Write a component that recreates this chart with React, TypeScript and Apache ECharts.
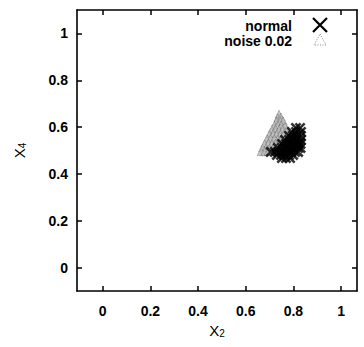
import React, { useEffect, useRef } from "react";
import * as echarts from "echarts";

const tickValues = [0, 0.2, 0.4, 0.6, 0.8, 1];
const xRange = [-0.108, 1.067];
const yRange = [-0.1, 1.1];

const normalPoints: number[][] = [
  [0.811, 0.596], [0.828, 0.596],
  [0.794, 0.579], [0.811, 0.579], [0.832, 0.579],
  [0.782, 0.562], [0.798, 0.562], [0.815, 0.562], [0.832, 0.562],
  [0.765, 0.545], [0.782, 0.545], [0.798, 0.545], [0.815, 0.545], [0.832, 0.545],
  [0.752, 0.528], [0.769, 0.528], [0.786, 0.528], [0.803, 0.528], [0.82, 0.528], [0.83, 0.528],
  [0.735, 0.511], [0.752, 0.511], [0.769, 0.511], [0.786, 0.511], [0.803, 0.511], [0.82, 0.511], [0.83, 0.511],
  [0.705, 0.494], [0.722, 0.494], [0.739, 0.494], [0.756, 0.494], [0.773, 0.494], [0.79, 0.494], [0.807, 0.494], [0.82, 0.494],
  [0.731, 0.481], [0.748, 0.481], [0.765, 0.481], [0.782, 0.481], [0.799, 0.481],
  [0.752, 0.468], [0.769, 0.468], [0.786, 0.468],
];

const noisePoints: number[][] = [
  [0.74, 0.655], [0.735, 0.64], [0.748, 0.642], [0.73, 0.625], [0.745, 0.627], [0.758, 0.625],
  [0.72, 0.607], [0.735, 0.609], [0.75, 0.607], [0.765, 0.605],
  [0.71, 0.59], [0.725, 0.592], [0.74, 0.59], [0.755, 0.59], [0.772, 0.588],
  [0.70, 0.57], [0.715, 0.572], [0.73, 0.57], [0.745, 0.57], [0.76, 0.57], [0.778, 0.572], [0.79, 0.565],
  [0.69, 0.55], [0.705, 0.552], [0.72, 0.55], [0.735, 0.55], [0.75, 0.55], [0.765, 0.55], [0.78, 0.55],
  [0.68, 0.53], [0.695, 0.532], [0.71, 0.53], [0.725, 0.53], [0.74, 0.53], [0.755, 0.53],
  [0.67, 0.51], [0.685, 0.512], [0.70, 0.51], [0.715, 0.51], [0.73, 0.51],
  [0.665, 0.495], [0.68, 0.495], [0.695, 0.497],
];

const legendNames = ["normal", "noise 0.02"];

const crossPath =
  "path://M0,2L2,0L6,4L10,0L12,2L8,6L12,10L10,12L6,8L2,12L0,10L4,6Z";

const font = "'Liberation Sans', Arial, Helvetica, sans-serif";

export default function App() {
  const ref = useRef<HTMLDivElement>(null);
  useEffect(() => {
    if (!ref.current) return;
    const chart = echarts.init(ref.current, undefined, { renderer: "svg" });
    const tickCommon = {
      show: true,
      inside: true,
      length: 5,
      lineStyle: { color: "#000", width: 1.5 },
      customValues: tickValues,
    };
    const axisLineCommon = { show: true, onZero: false, lineStyle: { color: "#000", width: 1.6 } };
    const labelCommon = {
      customValues: tickValues,
      color: "#000",
      fontSize: 14,
      fontWeight: "bold",
      fontFamily: font,
      formatter: (v: number) => String(v),
    };
    const nameRich = {
      a: { fontSize: 15, fontFamily: font, color: "#000" },
      b: { fontSize: 10, fontFamily: font, color: "#000", verticalAlign: "bottom", padding: [6, 0, 0, 0] },
    };
    chart.setOption({
      animation: false,
      backgroundColor: "#fff",
      textStyle: { fontFamily: font },
      grid: { left: 77, right: 7, top: 10, bottom: 56, show: false },
      xAxis: [
        {
          type: "value",
          min: xRange[0],
          max: xRange[1],
          position: "bottom",
          axisLine: axisLineCommon,
          axisTick: tickCommon,
          splitLine: { show: false },
          axisLabel: { ...labelCommon, margin: 13 },
          name: "{a|X}{b|2}",
          nameLocation: "middle",
          nameGap: 31,
          nameTextStyle: { rich: nameRich },
        },
        {
          type: "value",
          min: xRange[0],
          max: xRange[1],
          position: "top",
          axisLine: axisLineCommon,
          axisTick: tickCommon,
          axisLabel: { show: false },
          splitLine: { show: false },
        },
      ],
      yAxis: [
        {
          type: "value",
          min: yRange[0],
          max: yRange[1],
          position: "left",
          axisLine: axisLineCommon,
          axisTick: tickCommon,
          splitLine: { show: false },
          axisLabel: { ...labelCommon, margin: 9 },
          name: "{a|X}{b|4}",
          nameLocation: "middle",
          nameGap: 50,
          nameTextStyle: { rich: nameRich },
        },
        {
          type: "value",
          min: yRange[0],
          max: yRange[1],
          position: "right",
          axisLine: axisLineCommon,
          axisTick: tickCommon,
          axisLabel: { show: false },
          splitLine: { show: false },
        },
      ],
      series: [
        {
          name: legendNames[1],
          type: "scatter",
          data: noisePoints,
          symbol: "triangle",
          symbolSize: 8,
          itemStyle: { color: "#b8b8b8", borderColor: "#5a5a5a", borderWidth: 0.8, borderType: "dotted" },
        },
        {
          name: legendNames[0],
          type: "scatter",
          data: normalPoints,
          symbol: crossPath,
          symbolSize: 11,
          itemStyle: { color: "#000" },
        },
      ],
      graphic: [
        {
          type: "text",
          right: 72,
          top: 19,
          style: { text: legendNames[0], font: `bold 14px ${font}`, fill: "#000", textAlign: "right" },
        },
        {
          type: "text",
          right: 72,
          top: 34,
          style: { text: legendNames[1], font: `bold 14px ${font}`, fill: "#000", textAlign: "right" },
        },
        {
          type: "polygon",
          shape: { points: [[313, 18], [327, 32], [320, 25], [313, 32], [327, 18], [320, 25]] },
          style: { stroke: "#000", lineWidth: 2.2, fill: "none" },
        },
        {
          type: "polygon",
          shape: { points: [[320, 34], [326, 45], [314, 45]] },
          style: { stroke: "#888", lineWidth: 1, lineDash: [1, 1.5], fill: "none" },
        },
      ],
    });
    return () => chart.dispose();
  }, []);
  return (
    <div
      ref={ref}
      style={{ position: "absolute", left: 0, top: 0, width: 364, height: 347 }}
    />
  );
}
